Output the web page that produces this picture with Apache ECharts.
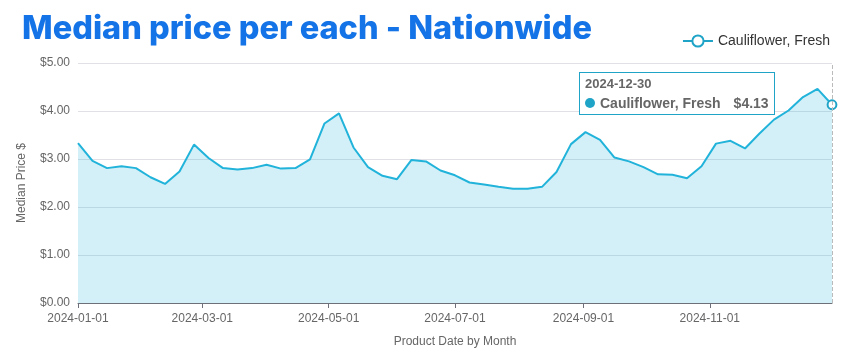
<!DOCTYPE html>
<html><head><meta charset="utf-8">
<script src="https://cdn.jsdelivr.net/npm/echarts@6/dist/echarts.min.js"></script>
<style>html,body{margin:0;padding:0;background:#fff;}#c{width:850px;height:362px;}</style>
</head><body><div id="c"></div>
<script>
const seriesName = 'Cauliflower, Fresh';
const dates = ['2024-01-01','2024-01-08','2024-01-15','2024-01-22','2024-01-29','2024-02-05','2024-02-12','2024-02-19','2024-02-26','2024-03-04','2024-03-11','2024-03-18','2024-03-25','2024-04-01','2024-04-08','2024-04-15','2024-04-22','2024-04-29','2024-05-06','2024-05-13','2024-05-20','2024-05-27','2024-06-03','2024-06-10','2024-06-17','2024-06-24','2024-07-01','2024-07-08','2024-07-15','2024-07-22','2024-07-29','2024-08-05','2024-08-12','2024-08-19','2024-08-26','2024-09-02','2024-09-09','2024-09-16','2024-09-23','2024-09-30','2024-10-07','2024-10-14','2024-10-21','2024-10-28','2024-11-04','2024-11-11','2024-11-18','2024-11-25','2024-12-02','2024-12-09','2024-12-16','2024-12-23','2024-12-30'];
const prices = [3.33,2.96,2.81,2.85,2.81,2.62,2.48,2.74,3.30,3.02,2.81,2.78,2.81,2.88,2.80,2.81,2.99,3.74,3.95,3.24,2.83,2.65,2.58,2.98,2.95,2.76,2.66,2.51,2.47,2.42,2.38,2.38,2.42,2.73,3.31,3.56,3.40,3.03,2.95,2.83,2.68,2.67,2.60,2.85,3.32,3.38,3.22,3.53,3.82,4.01,4.29,4.46,4.13];
const xTickLabels = ['2024-01-01','2024-03-01','2024-05-01','2024-07-01','2024-09-01','2024-11-01'];
const yTicks = [0,1,2,3,4,5];

const lineColor = '#1fa3c7';
const textColor = '#666666';
const font = '"Liberation Sans", Arial, sans-serif';
const ts = s => Date.UTC(+s.slice(0,4), +s.slice(5,7) - 1, +s.slice(8,10));
const fmt = v => { const d = new Date(v); const p = n => String(n).padStart(2,'0'); return d.getUTCFullYear() + '-' + p(d.getUTCMonth()+1) + '-' + p(d.getUTCDate()); };

const chart = echarts.init(document.getElementById('c'), null, {renderer:'canvas'});
chart.setOption({
  animation: false,
  textStyle: {fontFamily: font},
  title: {
    text: 'Median price per each - Nationwide',
    left: 17, top: 8,
    textStyle: {fontFamily: 'Inter, Roboto, sans-serif', fontWeight: 800, fontSize: 32.5, color: '#1473e6'}
  },
  legend: {
    right: 15, top: 29,
    itemWidth: 30, itemHeight: 14, itemGap: 10,
    textStyle: {fontFamily: font, fontSize: 14, color: '#333'},
    data: [seriesName]
  },
  grid: {left: 78, right: 18, top: 63, bottom: 59, containLabel: false},
  tooltip: {
    trigger: 'axis',
    alwaysShowContent: true,
    position: [579, 72],
    backgroundColor: '#fff',
    borderColor: lineColor,
    borderWidth: 1,
    padding: [1, 5, 1, 5],
    extraCssText: 'box-shadow:none;border-radius:0;',
    axisPointer: {type: 'line', label: {show: false}, lineStyle: {color: '#bbbbbb', type: 'dashed', width: 1}},
    formatter: function (params) {
      const p = params[0];
      const d = dates[p.dataIndex];
      return '<div style="font-family:Liberation Sans,Arial,sans-serif;font-weight:bold;color:#666;font-size:13px;line-height:19px;">' + d + '</div>' +
        '<div style="font-family:Liberation Sans,Arial,sans-serif;font-weight:bold;color:#666;font-size:14px;line-height:20px;">' +
        '<span style="display:inline-block;width:10px;height:10px;border-radius:5px;background:' + lineColor + ';margin-right:5px;"></span>' +
        p.seriesName + '<span style="display:inline-block;width:13px"></span>$' + p.value[1].toFixed(2) + '</div>';
    }
  },
  xAxis: {
    type: 'value',
    min: ts(dates[0]),
    max: ts(dates[dates.length - 1]),
    name: 'Product Date by Month',
    nameLocation: 'middle',
    nameGap: 33,
    nameTextStyle: {color: textColor, fontSize: 12, fontFamily: font},
    axisLine: {show: true, lineStyle: {color: '#6e7079', width: 1}},
    axisTick: {show: true, customValues: xTickLabels.map(ts), length: 5, lineStyle: {color: '#6e7079'}},
    axisLabel: {
      customValues: xTickLabels.map(ts),
      color: textColor, fontSize: 12, fontFamily: font, margin: 10,
      formatter: fmt
    },
    axisPointer: {label: {show: false}},
    splitLine: {show: false}
  },
  yAxis: {
    type: 'value',
    min: yTicks[0], max: yTicks[yTicks.length - 1], interval: 1,
    name: 'Median Price $',
    nameLocation: 'middle',
    nameGap: 50,
    nameTextStyle: {color: textColor, fontSize: 12, fontFamily: font},
    axisLine: {show: false},
    axisTick: {show: false},
    axisLabel: {color: textColor, fontSize: 12, fontFamily: font, margin: 8, formatter: v => '$' + v.toFixed(2)},
    splitLine: {lineStyle: {color: '#e0e0e6', width: 1}}
  },
  series: [{
    name: seriesName,
    type: 'line',
    data: dates.map((d, i) => [ts(d), prices[i]]),
    showSymbol: false,
    symbol: 'emptyCircle',
    symbolSize: 8,
    lineStyle: {color: lineColor, width: 2},
    itemStyle: {color: lineColor, borderColor: lineColor, borderWidth: 1.5},
    areaStyle: {color: lineColor, opacity: 0.2},
    z: 2
  }]
});
chart.dispatchAction({type: 'showTip', seriesIndex: 0, dataIndex: prices.length - 1});
</script>
</body></html>
